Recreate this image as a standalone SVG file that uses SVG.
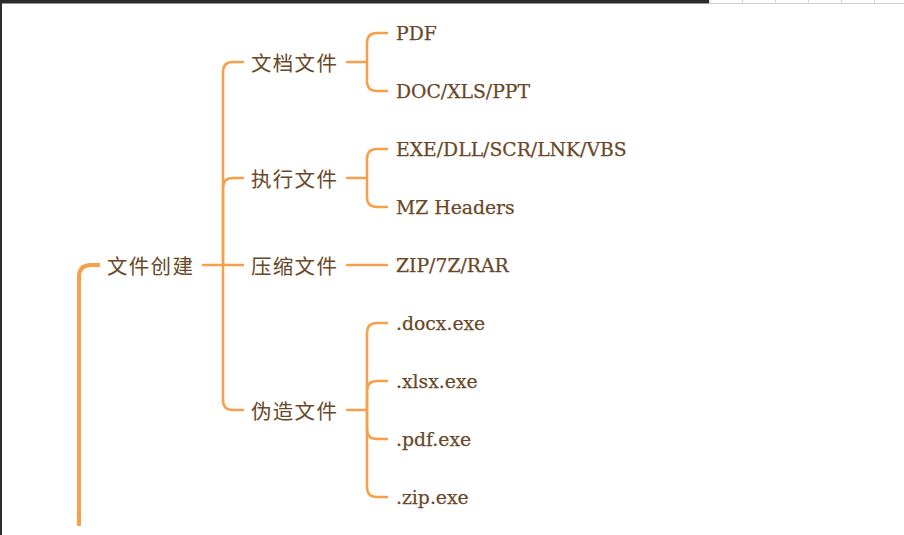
<svg xmlns="http://www.w3.org/2000/svg" width="904" height="535" viewBox="0 0 904 535">
<style>
.ln{fill:none;stroke:#f7a049;stroke-linecap:round;stroke-linejoin:round;stroke-width:2.5}
.root{stroke-width:4;stroke-linecap:butt}
.cj{font-family:"Noto Sans CJK SC","Noto Sans",sans-serif;font-size:20.5px;fill:#6a4727;dominant-baseline:central;letter-spacing:1.3px}
.lt{font-family:"DejaVu Serif","Liberation Serif",serif;font-size:18.8px;fill:#6a4727;stroke:#6a4727;stroke-width:0.25}
</style>
<rect x="0" y="0" width="904" height="535" fill="#ffffff"/>
<g id="frame">
<rect x="0" y="0" width="709" height="3.5" fill="#2b2b2b"/>
<rect x="0" y="0" width="2" height="535" fill="#2b2b2b"/>
<rect x="709" y="0" width="195" height="3.5" fill="#ffffff"/>
<line x1="709" y1="3.5" x2="904" y2="3.5" stroke="#cfcfcf" stroke-width="1"/>
<g stroke="#d6d6d6" stroke-width="1">
<line x1="710" y1="0" x2="710" y2="3.5"/><line x1="742.5" y1="0" x2="742.5" y2="3.5"/><line x1="775.5" y1="0" x2="775.5" y2="3.5"/><line x1="808.5" y1="0" x2="808.5" y2="3.5"/><line x1="841.5" y1="0" x2="841.5" y2="3.5"/><line x1="874.5" y1="0" x2="874.5" y2="3.5"/>
</g>
</g>
<g id="connectors">
<path class="ln root" d="M79,526 V277 Q79,265 91,265 H100"/>
<path class="ln" d="M203,265 H243"/>
<path class="ln" d="M223,265 V72 Q223,62 233,62 H243"/>
<path class="ln" d="M223,265 V188 Q223,178 233,178 H243"/>
<path class="ln" d="M223,265 V400 Q223,410 233,410 H243"/>
<path class="ln" d="M347,62 H367"/>
<path class="ln" d="M367,62 V43 Q367,33 377,33 H387"/>
<path class="ln" d="M367,62 V81 Q367,91 377,91 H387"/>
<path class="ln" d="M347,178 H367"/>
<path class="ln" d="M367,178 V159 Q367,149 377,149 H387"/>
<path class="ln" d="M367,178 V197 Q367,207 377,207 H387"/>
<path class="ln" d="M347,265 H387"/>
<path class="ln" d="M347,410 H367"/>
<path class="ln" d="M367,410 V333 Q367,323 377,323 H387"/>
<path class="ln" d="M367,410 V391 Q367,381 377,381 H387"/>
<path class="ln" d="M367,410 V429 Q367,439 377,439 H387"/>
<path class="ln" d="M367,410 V487 Q367,497 377,497 H387"/>
</g>
<g id="n-root"><text class="cj" x="107" y="265">文件创建</text></g>
<g id="n-doc"><text class="cj" x="251" y="62">文档文件</text></g>
<g id="n-exec"><text class="cj" x="251" y="178">执行文件</text></g>
<g id="n-zip"><text class="cj" x="251" y="265">压缩文件</text></g>
<g id="n-fake"><text class="cj" x="251" y="410">伪造文件</text></g>
<g id="n-pdf"><text class="lt" x="396" y="40">PDF</text></g>
<g id="n-office"><text class="lt" x="396" y="98">DOC/XLS/PPT</text></g>
<g id="n-exe"><text class="lt" x="396" y="156">EXE/DLL/SCR/LNK/VBS</text></g>
<g id="n-mz"><text class="lt" x="396" y="214">MZ Headers</text></g>
<g id="n-arch"><text class="lt" x="396" y="272">ZIP/7Z/RAR</text></g>
<g id="n-docx"><text class="lt" x="396" y="330">.docx.exe</text></g>
<g id="n-xlsx"><text class="lt" x="396" y="388">.xlsx.exe</text></g>
<g id="n-pdfexe"><text class="lt" x="396" y="446">.pdf.exe</text></g>
<g id="n-zipexe"><text class="lt" x="396" y="504">.zip.exe</text></g>
</svg>
